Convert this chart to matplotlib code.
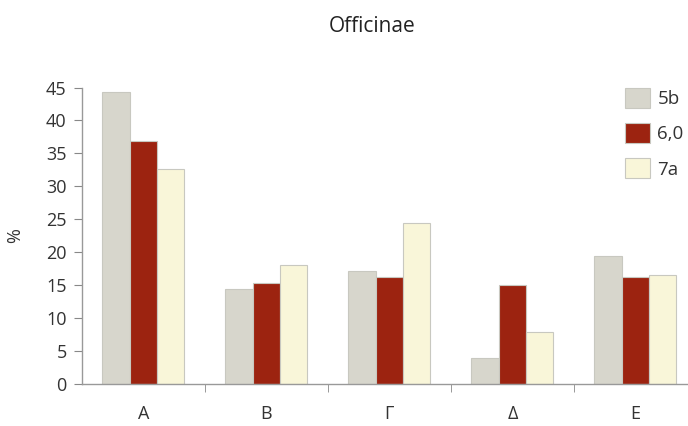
import matplotlib
matplotlib.use("Agg")
import matplotlib.pyplot as plt
import numpy as np

plt.rcParams['font.family'] = ['Open Sans', 'DejaVu Sans']

categories = ['A', 'B', 'Γ', 'Δ', 'E']
series = ['5b', '6,0', '7a']
vals_5b = [44.3, 14.4, 17.2, 4.0, 19.5]
vals_60 = [36.9, 15.4, 16.2, 15.0, 16.2]
vals_7a = [32.6, 18.0, 24.5, 7.9, 16.5]
colors = ['#d7d6cc', '#9c2310', '#f9f6d9']

fig = plt.figure(figsize=(6.88, 4.26), dpi=100)
ax = fig.add_axes([0.119, 0.0986, 0.894, 0.696])

x = np.arange(len(categories))
w = 0.222
for i, (vals, lab, col) in enumerate(zip([vals_5b, vals_60, vals_7a], series, colors)):
    ax.bar(x + (i - 1) * w, vals, w, color=col, edgecolor='#c8c8c0', linewidth=0.8, label=lab)

ax.set_xlim(-0.5, 4.5)
ax.set_ylim(0, 45)
ax.set_yticks(range(0, 46, 5))
ax.set_xticks(x)
ax.set_xticklabels(categories)
ax.set_xticks(np.arange(0.5, 4.5, 1), minor=True)
ax.tick_params(axis='x', which='major', length=0, pad=15, labelsize=13, colors='#333333')
ax.tick_params(axis='x', which='minor', length=6, color='#888888', direction='out')
ax.tick_params(axis='y', length=6, color='#888888', labelsize=13, labelcolor='#333333', pad=5)
for s in ['top', 'right']:
    ax.spines[s].set_visible(False)
for s in ['left', 'bottom']:
    ax.spines[s].set_color('#999999')
    ax.spines[s].set_linewidth(1.0)

ax.set_ylabel('%', fontsize=13, color='#333333', labelpad=16)
fig.text(372 / 688, 1 - 27 / 426, 'Officinae', ha='center', va='center', fontsize=15, color='#222222')

leg = ax.legend(loc='upper left', bbox_to_anchor=(625 / 688, 1 - 88 / 426),
                bbox_transform=fig.transFigure, frameon=False, fontsize=13.5,
                borderpad=0, borderaxespad=0,
                handlelength=1.33, handleheight=1.25, labelspacing=0.8, handletextpad=0.4,
                labelcolor='#333333')

fig.savefig('out.png', dpi=100)
